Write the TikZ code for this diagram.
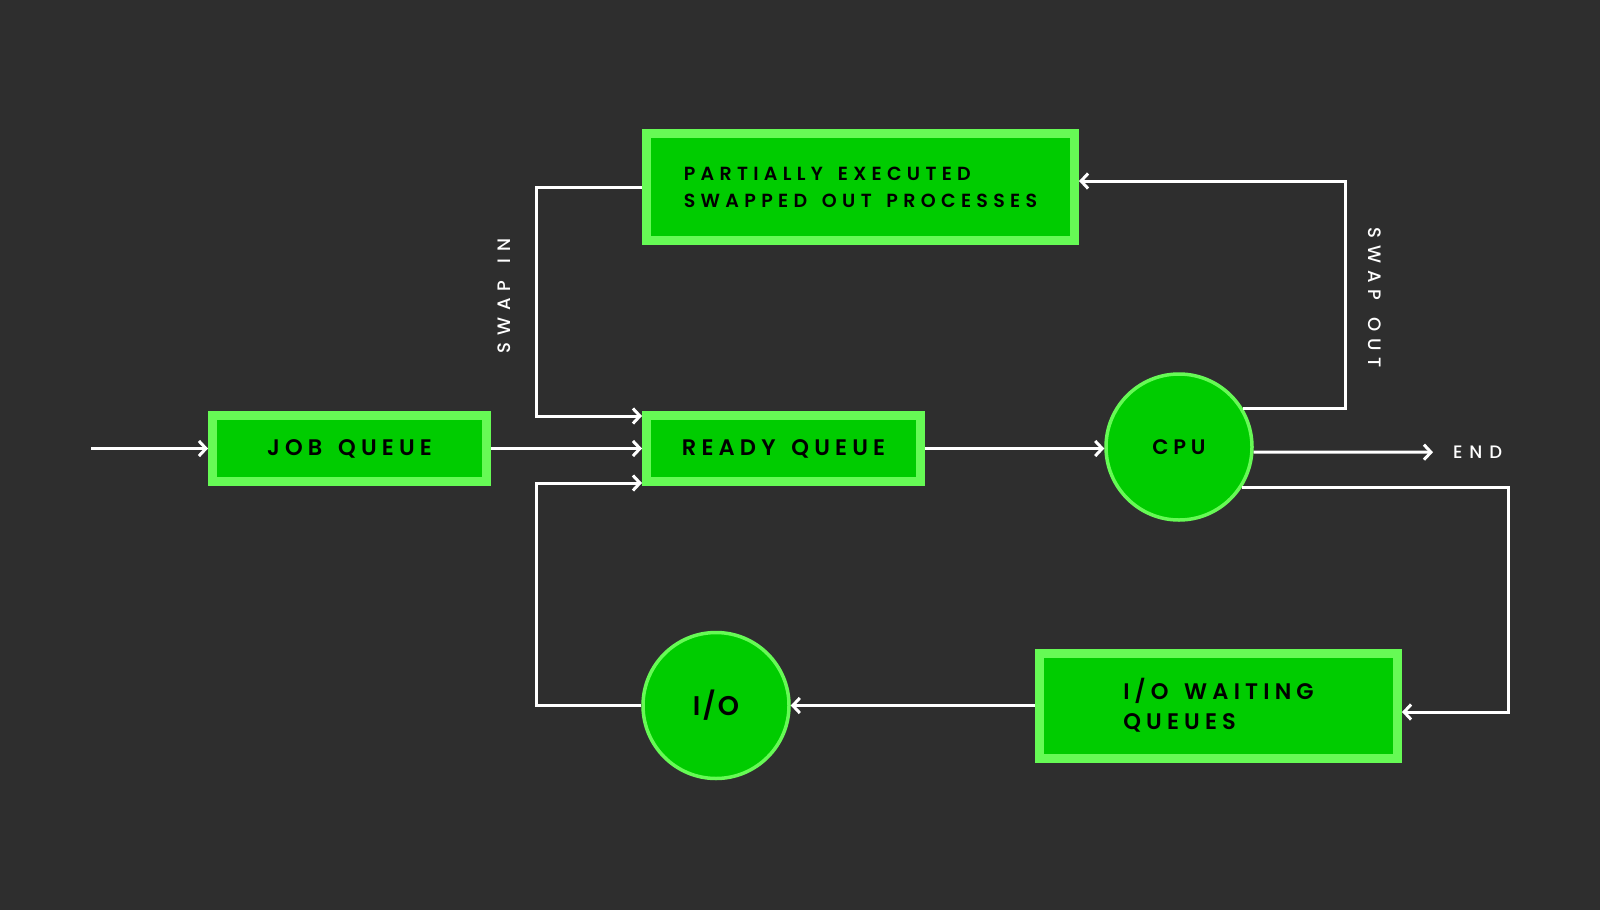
\documentclass[tikz,border=0pt]{standalone}
\usepackage{fontspec}
\setmainfont{Poppins}
\newfontfamily\boxfont{Poppins SemiBold}[LetterSpace=23, WordSpace=1.5]
\newfontfamily\wideboxfont{Poppins SemiBold}[LetterSpace=28, WordSpace=1.5]
\newfontfamily\tagfont{Poppins Medium}[LetterSpace=38, WordSpace=1.5]
\usetikzlibrary{arrows.meta}
\definecolor{board}{RGB}{46,46,46}
\definecolor{leaf}{RGB}{0,204,0}
\definecolor{rim}{RGB}{102,250,85}

\begin{document}
\begin{tikzpicture}[x=1pt, y=-1pt,
		queue/.style={draw=rim, fill=leaf, line width=9pt, inner sep=0pt,
			text=black, font=\boxfont\fontsize{22.5}{30}\selectfont},
		unit/.style={circle, draw=rim, fill=leaf, line width=3.5pt, inner sep=0pt,
			minimum size=146pt, text=black},
		tag/.style={inner sep=0pt, text=white, font=\tagfont\fontsize{18}{22}\selectfont},
		arr/.style={-{Straight Barb[length=7pt, width=15pt]}, line width=3pt, white}]
		\fill[board] (0,0) rectangle (1600,910);
		\useasboundingbox (0,0) rectangle (1600,910);
		% boxes and units
		\node[queue, minimum width=428pt, minimum height=107pt, align=left,
			font=\wideboxfont\fontsize{19}{27}\selectfont] (swapped) at (860.5,187)
			{PARTIALLY EXECUTED\\SWAPPED OUT PROCESSES};
		\node[queue, minimum width=274pt, minimum height=66pt] (job) at (349.5,448.5) {JOB QUEUE};
		\node[queue, minimum width=274pt, minimum height=66pt] (ready) at (783.5,448.5) {READY QUEUE};
		\node[unit, font=\boxfont\fontsize{21}{24}\selectfont] (cpu) at (1179,447) {CPU};
		\node[unit, font=\boxfont\fontsize{27}{32}\selectfont\addfontfeature{LetterSpace=8}] (io) at (716,705.5) {I/O};
		\node[queue, minimum width=358pt, minimum height=105pt, align=left] (wait) at (1218.5,705.5)
			{I/O WAITING\\QUEUES};
		% labels
		\node[tag, rotate=90] (swapin) at (504,296) {SWAP IN};
		\node[tag, rotate=-90] (swapout) at (1375,298) {SWAP OUT};
		\node[tag, anchor=west] (end) at (1453,452.2) {END};
		% connectors
		\coordinate (start) at (91,448.5);
		\coordinate (sin) at (536,416);
		\coordinate (ret) at (536,483);
		\coordinate (sout) at (1345,181);
		\coordinate (down) at (1508,712);
		\draw[arr] (start) -- (job.west);
		\draw[arr] (job.east) -- (job.east -| ready.west);
		\draw[arr] (swapped.west) -| (sin) -- (sin -| ready.west);
		\draw[arr] (io.west) -| (ret) -- (ret -| ready.west);
		\draw[arr] (ready.east) -- (ready.east -| cpu.west);
		\draw[arr] (cpu.-4) -- ([xshift=-20pt]end.west);
		\draw[arr] (cpu.31) -| (sout) -- (sout -| swapped.east);
		\draw[arr] (cpu.-33) -| (down) -- (down -| wait.east);
		\draw[arr] (wait.west) -- (io.east);
	\end{tikzpicture}
\end{document}
